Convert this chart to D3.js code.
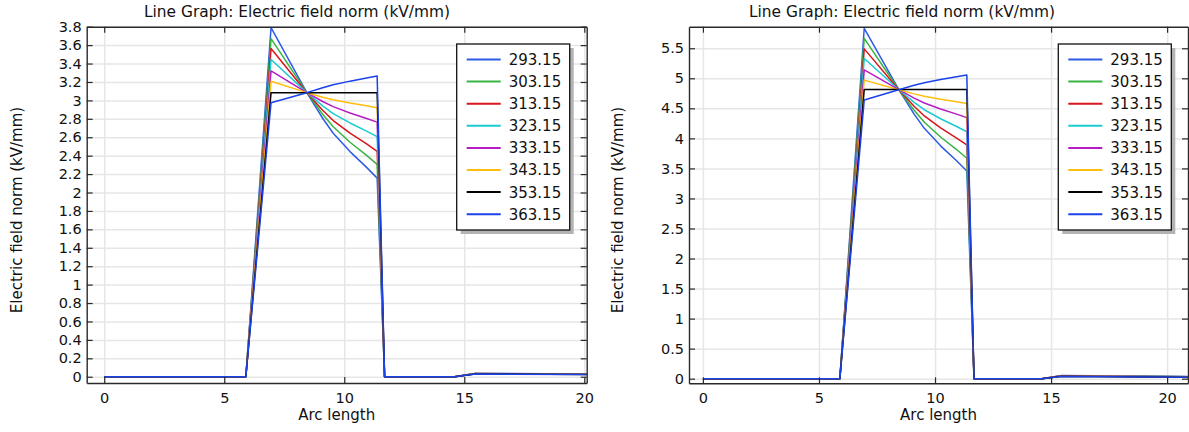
<!DOCTYPE html>
<html>
<head>
<meta charset="utf-8">
<script src="https://cdn.jsdelivr.net/npm/d3@7"></script>
<style>
  body { margin: 0; background: #fff; }
  svg { display: block; font-family: "DejaVu Sans", sans-serif; }
</style>
</head>
<body>
<svg id="chart" width="1189" height="432"></svg>
<script>
// Arc length nodes shared by every curve
var arcLength = [0, 5.9, 6.95, 8.44, 9.1, 9.54, 10.24, 10.93, 11.37, 11.68, 14.6, 15.45, 20.9];

var temperatures = ["293.15", "303.15", "313.15", "323.15", "333.15", "343.15", "353.15", "363.15"];
var colors = ["#2d5be6", "#37b443", "#d8161c", "#1ccbd2", "#b61cc6", "#ffbe0d", "#000000", "#1b42ea"];

// left graph (kV/mm)
var left293 = [0, 0, 3.79, 3.084, 2.806, 2.643, 2.444, 2.273, 2.156, 0, 0, 0.036, 0.030];
var left303 = [0, 0, 3.67, 3.084, 2.850, 2.714, 2.546, 2.403, 2.305, 0, 0, 0.035, 0.029];
var left313 = [0, 0, 3.564, 3.084, 2.893, 2.781, 2.644, 2.527, 2.447, 0, 0, 0.034, 0.028];
var left323 = [0, 0, 3.444, 3.084, 2.941, 2.857, 2.755, 2.667, 2.607, 0, 0, 0.033, 0.027];
var left333 = [0, 0, 3.32, 3.084, 2.988, 2.932, 2.863, 2.804, 2.764, 0, 0, 0.032, 0.026];
var left343 = [0, 0, 3.207, 3.084, 3.035, 3.006, 2.971, 2.941, 2.92, 0, 0, 0.031, 0.025];
var left353 = [0, 0, 3.084, 3.084, 3.084, 3.084, 3.084, 3.084, 3.084, 0, 0, 0.030, 0.024];
var left363 = [0, 0, 2.975, 3.084, 3.138, 3.170, 3.209, 3.242, 3.265, 0, 0, 0.029, 0.023];

// right graph (kV/mm)
var right293 = [0, 0, 5.832, 4.81, 4.404, 4.167, 3.876, 3.627, 3.457, 0, 0, 0.052, 0.036];
var right303 = [0, 0, 5.666, 4.81, 4.468, 4.268, 4.023, 3.814, 3.67, 0, 0, 0.050, 0.034];
var right313 = [0, 0, 5.49, 4.81, 4.534, 4.373, 4.175, 4.006, 3.89, 0, 0, 0.048, 0.032];
var right323 = [0, 0, 5.33, 4.81, 4.60, 4.477, 4.327, 4.198, 4.11, 0, 0, 0.046, 0.030];
var right333 = [0, 0, 5.14, 4.81, 4.670, 4.589, 4.489, 4.404, 4.345, 0, 0, 0.044, 0.028];
var right343 = [0, 0, 4.97, 4.81, 4.741, 4.701, 4.651, 4.609, 4.58, 0, 0, 0.042, 0.026];
var right353 = [0, 0, 4.815, 4.815, 4.815, 4.815, 4.815, 4.815, 4.815, 0, 0, 0.040, 0.025];
var right363 = [0, 0, 4.64, 4.81, 4.884, 4.926, 4.979, 5.024, 5.055, 0, 0, 0.038, 0.024];

var xTicks = [0, 5, 10, 15, 20];
var yTicksLeft = [0, 0.2, 0.4, 0.6, 0.8, 1, 1.2, 1.4, 1.6, 1.8, 2, 2.2, 2.4, 2.6, 2.8, 3, 3.2, 3.4, 3.6, 3.8];
var yTicksRight = [0, 0.5, 1, 1.5, 2, 2.5, 3, 3.5, 4, 4.5, 5, 5.5];

var titleText = "Line Graph: Electric field norm (kV/mm)";
var xLabel = "Arc length";
var yLabel = "Electric field norm (kV/mm)";

var svg = d3.select("#chart");

function drawPanel(id, box, xDomain, yDomain, yTicks, series, titleX, yLabelX, legendX){
  var x = d3.scaleLinear().domain(xDomain).range([box.left, box.right]);
  var y = d3.scaleLinear().domain(yDomain).range([box.bottom, box.top]);
  var w = box.right - box.left, h = box.bottom - box.top;

  var g = svg.append("g").attr("class", "panel-" + id);

  g.append("clipPath").attr("id", "clip-" + id)
    .append("rect")
      .attr("x", box.left).attr("y", box.top)
      .attr("width", w).attr("height", h);

  //Grid
  g.append("g")
    .attr("transform", "translate(0," + box.bottom + ")")
    .call(d3.axisBottom(x).tickValues(xTicks).tickSize(-h).tickFormat(""))
    .call(function(s){ s.select(".domain").remove(); })
    .selectAll("line").style("stroke", "#e6e6e6").style("stroke-width", "1.5");
  g.append("g")
    .attr("transform", "translate(" + box.left + ",0)")
    .call(d3.axisLeft(y).tickValues(yTicks).tickSize(-w).tickFormat(""))
    .call(function(s){ s.select(".domain").remove(); })
    .selectAll("line").style("stroke", "#e6e6e6").style("stroke-width", "1.5");

  //Lines
  var line = d3.line()
    .x(function(d, i){ return x(arcLength[i]); })
    .y(function(d){ return y(d); });

  var lines = g.append("g").attr("clip-path", "url(#clip-" + id + ")");
  for(var i = 0; i < series.length; i++){
    lines.append("path")
      .datum(series[i])
      .style("fill", "none")
      .style("stroke", colors[i])
      .style("stroke-width", "1.5px")
      .style("stroke-linejoin", "round")
      .attr("d", line);
  }

  //Axes, ticks pointing inward on all four sides
  var fmt = function(d){ return String(+d.toFixed(1)); };
  var axisStyle = function(s){
    s.style("font-family", "DejaVu Sans").style("font-size", "14.5px");
    s.selectAll("text").style("fill", "#111");
    s.selectAll(".domain").style("stroke", "#2a2a2a").style("stroke-width", "1.4");
    s.selectAll(".tick line").style("stroke", "#2a2a2a").style("stroke-width", "1.2");
  };

  g.append("g")
    .attr("transform", "translate(0," + box.bottom + ")")
    .call(d3.axisBottom(x).tickValues(xTicks).tickSize(-6).tickSizeOuter(0).tickPadding(9.5).tickFormat(fmt))
    .call(axisStyle);
  g.append("g")
    .attr("transform", "translate(0," + box.top + ")")
    .call(d3.axisTop(x).tickValues(xTicks).tickSize(-6).tickSizeOuter(0).tickFormat(""))
    .call(axisStyle);
  g.append("g")
    .attr("transform", "translate(" + box.left + ",0)")
    .call(d3.axisLeft(y).tickValues(yTicks).tickSize(-6).tickSizeOuter(0).tickPadding(5).tickFormat(fmt))
    .call(axisStyle);
  g.append("g")
    .attr("transform", "translate(" + box.right + ",0)")
    .call(d3.axisRight(y).tickValues(yTicks).tickSize(-6).tickSizeOuter(0).tickFormat(""))
    .call(axisStyle);

  //Title
  g.append("text")
    .attr("x", titleX).attr("y", 17)
    .style("text-anchor", "middle")
    .style("font-size", "15.4px")
    .style("fill", "#111")
    .text(titleText);

  //Label for X axis
  g.append("text")
    .attr("x", (box.left + box.right) / 2).attr("y", 419.5)
    .style("text-anchor", "middle")
    .style("font-size", "15px")
    .style("fill", "#111")
    .text(xLabel);

  //Label for Y axis
  g.append("text")
    .attr("transform", "translate(" + yLabelX + ",210) rotate(-90)")
    .style("text-anchor", "middle")
    .style("font-size", "15px")
    .style("fill", "#111")
    .text(yLabel);

  //Legend
  var lw = 113, lh = 186, ly = 44;
  var legend = g.append("g").attr("transform", "translate(" + legendX + "," + ly + ")");
  legend.append("rect")
    .attr("x", 4).attr("y", 4).attr("width", lw).attr("height", lh)
    .style("fill", "#b3b3b3");
  legend.append("rect")
    .attr("width", lw).attr("height", lh)
    .style("fill", "#fff").style("stroke", "#111").style("stroke-width", "1.3");
  var rows = legend.selectAll("g.row").data(temperatures)
    .enter().append("g")
      .attr("class", "row")
      .attr("transform", function(d, i){ return "translate(0," + (15.5 + i * 22.1) + ")"; });
  rows.append("line")
    .attr("x1", 10).attr("x2", 44)
    .style("stroke", function(d, i){ return colors[i]; })
    .style("stroke-width", "2");
  rows.append("text")
    .attr("x", 52).attr("dy", "0.36em")
    .style("font-size", "15px")
    .style("fill", "#111")
    .text(function(d){ return d; });
}

drawPanel("left", {left: 86.7, right: 586.7, top: 26.7, bottom: 383},
  [-0.73, 20.1], [-0.068, 3.8], yTicksLeft,
  [left293, left303, left313, left323, left333, left343, left353, left363],
  297, 22, 456.7);

drawPanel("right", {left: 689, right: 1188, top: 26.7, bottom: 383.3},
  [-0.6, 20.9], [-0.077, 5.859], yTicksRight,
  [right293, right303, right313, right323, right333, right343, right353, right363],
  902, 623, 1058.3);
</script>
</body>
</html>
